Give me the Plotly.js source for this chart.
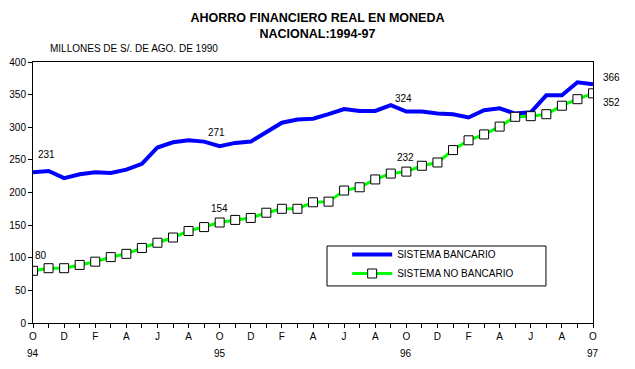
<!DOCTYPE html>
<html>
<head>
<meta charset="utf-8">
<script src="https://cdn.plot.ly/plotly-3.0.1.min.js"></script>
<style>html,body{margin:0;padding:0;background:#fff;}#chart{width:635px;height:369px;}</style>
</head>
<body>
<div id="chart"></div>
<script>
// Months Oct 1994 .. Oct 1997 (index 0..36)
const monthLetters = ["O","N","D","E","F","M","A","M","J","J","A","S"];
const yearLabels = ["94","95","96","97"];
const seriesNames = ["SISTEMA BANCARIO","SISTEMA NO BANCARIO"];
const bancario = [231,233,222,228,231,230,235,244,269,277,280,278,271,276,278,293,307,312,313,320,328,325,325,334,324,324,321,320,315,326,329,321,323,349,349,369,366];
const noBancario = [80,84,84,89,94,101,106,115,123,131,141,147,154,158,161,169,175,175,185,186,203,208,220,229,232,241,246,265,280,289,301,316,317,320,333,343,352];
const labelIdx = [0,12,24,36];

const n = bancario.length;
const xIdx = Array.from({length:n},(_,i)=>i);
const tickText = xIdx.map(i => (i % 2 === 0) ? monthLetters[i % 12] : "");

const FONT = "Liberation Sans, Arial, sans-serif";

// label offsets (styling only)
const blueOff = [[13,18],[-3,14],[-3,13],[18,7]];
const greenOff = [[8,15],[0,14],[-1,14],[18,-9]];

const annotations = [];
labelIdx.forEach((i,k)=>{
  annotations.push({x:i, y:bancario[i], xref:'x', yref:'y', text:String(bancario[i]), showarrow:false,
    xshift:blueOff[k][0], yshift:blueOff[k][1], font:{family:FONT,size:10,color:'#000'}});
  annotations.push({x:i, y:noBancario[i], xref:'x', yref:'y', text:String(noBancario[i]), showarrow:false,
    xshift:greenOff[k][0], yshift:greenOff[k][1], font:{family:FONT,size:10,color:'#000'}});
});
labelIdx.forEach((i,k)=>{
  annotations.push({x:i, y:-0.118, xref:'x', yref:'paper', text:yearLabels[k], showarrow:false,
    yanchor:'middle', font:{family:FONT,size:10,color:'#000'}});
});
annotations.push({x:0.027, y:1.05, xref:'paper', yref:'paper', xanchor:'left', yanchor:'middle',
  text:"MILLONES DE S/. DE AGO. DE 1990", showarrow:false, font:{family:FONT,size:10,color:'#000'}});

const traces = [
  {x:xIdx, y:bancario, name:seriesNames[0], type:'scatter', mode:'lines',
   line:{color:'#0000ff', width:4}, hoverinfo:'skip'},
  {x:xIdx, y:noBancario, name:seriesNames[1], type:'scatter', mode:'lines+markers',
   line:{color:'#00ff00', width:3},
   marker:{symbol:'square', size:9, color:'#ffffff', line:{color:'#000000', width:1}}, hoverinfo:'skip'}
];

const layout = {
  width:635, height:369,
  margin:{l:33, r:42, t:62, b:46, pad:0},
  paper_bgcolor:'#ffffff', plot_bgcolor:'#ffffff',
  font:{family:FONT, size:10, color:'#000'},
  title:{text:"<b>AHORRO FINANCIERO REAL EN MONEDA<br>NACIONAL:1994-97</b>", x:0.5, xref:'container',
    y:0.94, yref:'container', yanchor:'top', font:{family:FONT, size:12.5, color:'#000'}},
  xaxis:{range:[0,36], tickmode:'array', tickvals:xIdx, ticktext:tickText, ticks:'outside', ticklen:4,
    tickcolor:'#000', tickwidth:1, showline:true, linecolor:'#000', linewidth:1, mirror:true,
    showgrid:false, zeroline:false, tickfont:{family:FONT,size:10,color:'#000'}, fixedrange:true},
  yaxis:{range:[0,400], tickmode:'linear', tick0:0, dtick:50, ticks:'outside', ticklen:4,
    tickcolor:'#000', tickwidth:1, showline:true, linecolor:'#000', linewidth:1, mirror:true,
    showgrid:false, zeroline:false, tickfont:{family:FONT,size:10,color:'#000'}, fixedrange:true},
  showlegend:true,
  legend:{x:0.561, y:0.318, xanchor:'left', yanchor:'top', bgcolor:'rgba(0,0,0,0)', borderwidth:0,
    font:{family:FONT,size:10,color:'#000'}, itemwidth:40},
  shapes:[{type:'rect', xref:'paper', yref:'paper', x0:0.525, x1:0.916, y0:0.142, y1:0.295,
    line:{color:'#000', width:1}, fillcolor:'rgba(0,0,0,0)', layer:'below'}],
  annotations:annotations
};

Plotly.newPlot('chart', traces, layout, {displayModeBar:false, staticPlot:true});
</script>
</body>
</html>
